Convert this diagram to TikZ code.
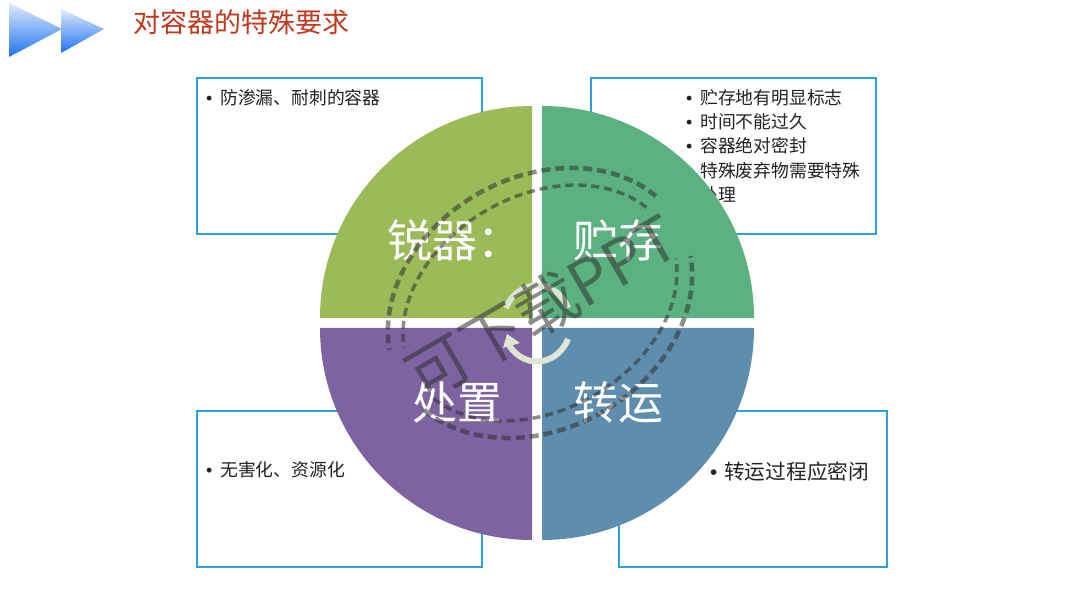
\documentclass[tikz,border=0pt]{standalone}
\usepackage{fontspec}
\setmainfont{Noto Sans CJK SC}
\newfontfamily\bulfont{Liberation Sans}
\definecolor{boxblue}{HTML}{2E9FE0}
\definecolor{titlered}{HTML}{C0391F}
\definecolor{olive}{HTML}{9BBB59}
\definecolor{leaf}{HTML}{5BB17F}
\definecolor{plum}{HTML}{7F62A1}
\definecolor{steel}{HTML}{5F8DAE}
\definecolor{bodytxt}{HTML}{222222}
\definecolor{stamp}{HTML}{303030}
\definecolor{ringc}{HTML}{DDE6D2}
\definecolor{tritop}{HTML}{E0EAFC}
\definecolor{tribot}{HTML}{1C74F2}
\newcommand{\bul}{\makebox[14pt][l]{\bulfont •}}
\tikzset{
  x=1pt,y=1pt,
  boxframe/.style={draw=boxblue,line width=2pt,fill=white,minimum height=156pt,inner sep=0pt,outer sep=0pt,anchor=south west},
  bodytext/.style={anchor=north west,inner sep=0pt,align=left,text=bodytxt,font=\fontsize{17.8}{24.3}\selectfont},
  seclabel/.style={text=white,inner sep=0pt,font=\fontsize{45}{50}\selectfont},
  stampline/.style={draw=stamp,opacity=0.55,line width=4.5pt,dash pattern=on 9pt off 5pt},
  stampthin/.style={draw=stamp,opacity=0.55,line width=3.5pt,dash pattern=on 8pt off 5pt},
  ringline/.style={draw=ringc,line width=6pt},
  triangleshade/.style={top color=tritop,bottom color=tribot},
}
\begin{document}
\begin{tikzpicture}
\useasboundingbox (0,0) rectangle (1080,608);
\fill[white] (0,0) rectangle (1080,608);
% header triangles
\shade[triangleshade] (9,605) -- (9,551) -- (62,579) -- cycle;
\shade[triangleshade] (61,599) -- (61,555) -- (104,579) -- cycle;
\node[anchor=west,inner sep=0pt,text=titlered,font=\fontsize{27}{30}\selectfont] (title) at (133,586) {对容器的特殊要求};
% boxes
\node[boxframe,minimum width=285pt] (b1) at (197,374) {};
\node[boxframe,minimum width=285pt] (b2) at (591,374) {};
\node[boxframe,minimum width=285pt] (b3) at (197,41) {};
\node[boxframe,minimum width=268pt] (b4) at (619,41) {};
\node[bodytext] (t1) at (206,519) {\bul 防渗漏、耐刺的容器};
\node[bodytext] (t2) at (686,519) {\bul 贮存地有明显标志\\\bul 时间不能过久\\\bul 容器绝对密封\\\bul 特殊废弃物需要特殊\\\hspace*{14pt}处理};
\node[bodytext] (t3) at (206,147) {\bul 无害化、资源化};
\node[bodytext,font=\fontsize{20.7}{24}\selectfont] (t4) at (710,146) {\bul 转运过程应密闭};
% sectors
\fill[olive] (532,290) -- (320,290) arc[start angle=180,end angle=90,radius=212pt] -- cycle;
\fill[leaf] (542,290) -- (542,502) arc[start angle=90,end angle=0,radius=212pt] -- cycle;
\fill[plum] (532,280) -- (532,68) arc[start angle=270,end angle=180,radius=212pt] -- cycle;
\fill[steel] (542,280) -- (754,280) arc[start angle=0,end angle=-90,radius=212pt] -- cycle;
% centre ring
\draw[ringline] (537,284.5) ++(156:34pt and 38pt) arc[start angle=156,end angle=24,x radius=34pt,y radius=38pt];
\draw[ringline] (537,284.5) ++(-24:34pt and 38pt) arc[start angle=-24,end angle=-145,x radius=34pt,y radius=38pt];
\fill[ringc] (507,274) -- (503,260) -- (520,265) -- cycle;
% labels
\node[seclabel] (l1) at (455,368) {锐器：};
\node[seclabel] (l2) at (618,368) {贮存};
\node[seclabel] (l3) at (457,206) {处置};
\node[seclabel] (l4) at (618,206) {转运};
% stamp
\begin{scope}[shift={(540,305)},rotate=30]
\draw[stampline] (16:160pt and 125.6pt) arc[start angle=16,end angle=164,x radius=160pt,y radius=125.6pt];
\draw[stampline] (196:160pt and 125.6pt) arc[start angle=196,end angle=344,x radius=160pt,y radius=125.6pt];
\draw[stampthin] (16:145.6pt and 107pt) arc[start angle=16,end angle=164,x radius=145.6pt,y radius=107pt];
\draw[stampthin] (196:145.6pt and 107pt) arc[start angle=196,end angle=344,x radius=145.6pt,y radius=107pt];
\end{scope}
\node[rotate=30,text=stamp,opacity=0.55,inner sep=0pt,font=\fontsize{62}{66}\selectfont] (wm) at (542,301) {可下载PPT};
\end{tikzpicture}
\end{document}
